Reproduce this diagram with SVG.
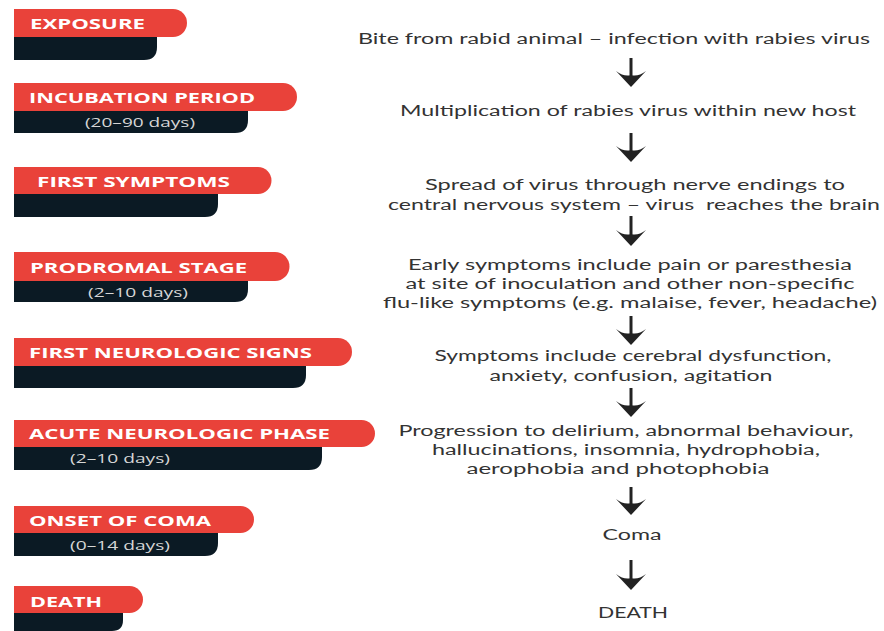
<svg xmlns="http://www.w3.org/2000/svg" xmlns:xlink="http://www.w3.org/1999/xlink" width="884" height="631" viewBox="0 0 884 631">
<style>
.red{fill:#e9423a}
.dark{fill:#0b1a24}
.lbl{font-family:"Open Sans","Liberation Sans",sans-serif;font-weight:bold;font-size:15px;fill:#ffffff}
.sub{font-family:"Open Sans","Liberation Sans",sans-serif;font-size:12.5px;fill:#d6d6d6}
.desc{font-family:Lato,"Liberation Sans",sans-serif;font-size:15.5px;fill:#333333;text-anchor:middle;white-space:pre}
.shaft{stroke:#222;stroke-width:3;fill:none}
.head{fill:#222}
</style>
<defs>
<path id="ah" class="head" d="M0,0 L-15,-16 Q-7,-10 0,-12 Q7,-10 15,-16 Z"/>
</defs>
<rect width="884" height="631" fill="#ffffff"/>

<g id="stage-exposure">
<path class="dark" d="M14,36 H157 V47 Q157,60 144,60 H14 Z"/>
<path class="red" d="M14,9 H173 A14,14 0 0 1 173,37 H14 Z"/>
<text class="lbl" x="30" y="29" textLength="115" lengthAdjust="spacingAndGlyphs">EXPOSURE</text>
</g>

<g id="stage-incubation">
<path class="dark" d="M14,110 H248 V120 Q248,133 235,133 H14 Z"/>
<path class="red" d="M14,83 H283 A14,14 0 0 1 283,111 H14 Z"/>
<text class="lbl" x="29" y="103" textLength="226" lengthAdjust="spacingAndGlyphs">INCUBATION PERIOD</text>
<text class="sub" x="85" y="127" textLength="110" lengthAdjust="spacingAndGlyphs">(20–90 days)</text>
</g>

<g id="stage-first-symptoms">
<path class="dark" d="M14,194 H218 V204 Q218,217 205,217 H14 Z"/>
<path class="red" d="M14,167 H258 A13.5,13.5 0 0 1 258,194 H14 Z"/>
<text class="lbl" x="37" y="187" textLength="193" lengthAdjust="spacingAndGlyphs">FIRST SYMPTOMS</text>
</g>

<g id="stage-prodromal">
<path class="dark" d="M14,280 H248 V289 Q248,302 235,302 H14 Z"/>
<path class="red" d="M14,252 H275 A14.5,14.5 0 0 1 275,281 H14 Z"/>
<text class="lbl" x="30" y="273" textLength="217" lengthAdjust="spacingAndGlyphs">PRODROMAL STAGE</text>
<text class="sub" x="88" y="297" textLength="100" lengthAdjust="spacingAndGlyphs">(2–10 days)</text>
</g>

<g id="stage-first-neurologic">
<path class="dark" d="M14,365 H306 V375 Q306,388 293,388 H14 Z"/>
<path class="red" d="M14,338 H338 A14,14 0 0 1 338,366 H14 Z"/>
<text class="lbl" x="29" y="358" textLength="283" lengthAdjust="spacingAndGlyphs">FIRST NEUROLOGIC SIGNS</text>
</g>

<g id="stage-acute-neurologic">
<path class="dark" d="M14,446 H322 V457 Q322,470 309,470 H14 Z"/>
<path class="red" d="M14,420 H361.5 A13.5,13.5 0 0 1 361.5,447 H14 Z"/>
<text class="lbl" x="29" y="439" textLength="301" lengthAdjust="spacingAndGlyphs">ACUTE NEUROLOGIC PHASE</text>
<text class="sub" x="70" y="463" textLength="100" lengthAdjust="spacingAndGlyphs">(2–10 days)</text>
</g>

<g id="stage-onset-coma">
<path class="dark" d="M14,532 H218 V543 Q218,556 205,556 H14 Z"/>
<path class="red" d="M14,506 H240.5 A13.5,13.5 0 0 1 240.5,533 H14 Z"/>
<text class="lbl" x="29" y="526" textLength="182" lengthAdjust="spacingAndGlyphs">ONSET OF COMA</text>
<text class="sub" x="70" y="550" textLength="100" lengthAdjust="spacingAndGlyphs">(0–14 days)</text>
</g>

<g id="stage-death">
<path class="dark" d="M14,612 H123 V620 Q123,631 112,631 H14 Z"/>
<path class="red" d="M14,586 H129.5 A13.5,13.5 0 0 1 129.5,613 H14 Z"/>
<text class="lbl" x="30" y="607" textLength="72" lengthAdjust="spacingAndGlyphs">DEATH</text>
</g>

<g id="desc-exposure">
<text class="desc" x="614" y="44" textLength="512" lengthAdjust="spacingAndGlyphs">Bite from rabid animal – infection with rabies virus</text>
</g>
<g id="desc-incubation">
<text class="desc" x="628" y="116" textLength="456" lengthAdjust="spacingAndGlyphs">Multiplication of rabies virus within new host</text>
</g>
<g id="desc-first-symptoms">
<text class="desc" x="635" y="190" textLength="420" lengthAdjust="spacingAndGlyphs">Spread of virus through nerve endings to</text>
<text class="desc" x="634" y="210" textLength="492" lengthAdjust="spacingAndGlyphs">central nervous system – virus  reaches the brain</text>
</g>
<g id="desc-prodromal">
<text class="desc" x="630" y="270" textLength="444" lengthAdjust="spacingAndGlyphs">Early symptoms include pain or paresthesia</text>
<text class="desc" x="630" y="289" textLength="449" lengthAdjust="spacingAndGlyphs">at site of inoculation and other non-specific</text>
<text class="desc" x="630" y="308" textLength="494" lengthAdjust="spacingAndGlyphs">flu-like symptoms (e.g. malaise, fever, headache)</text>
</g>
<g id="desc-first-neurologic">
<text class="desc" x="633" y="361" textLength="397" lengthAdjust="spacingAndGlyphs">Symptoms include cerebral dysfunction,</text>
<text class="desc" x="631" y="381" textLength="283" lengthAdjust="spacingAndGlyphs">anxiety, confusion, agitation</text>
</g>
<g id="desc-acute-neurologic">
<text class="desc" x="626" y="436" textLength="455" lengthAdjust="spacingAndGlyphs">Progression to delirium, abnormal behaviour,</text>
<text class="desc" x="626" y="455" textLength="388" lengthAdjust="spacingAndGlyphs">hallucinations, insomnia, hydrophobia,</text>
<text class="desc" x="618" y="474" textLength="303" lengthAdjust="spacingAndGlyphs">aerophobia and photophobia</text>
</g>
<g id="desc-coma">
<text class="desc" x="632" y="540" textLength="59" lengthAdjust="spacingAndGlyphs">Coma</text>
</g>
<g id="desc-death">
<text class="desc" x="633" y="618" textLength="70" lengthAdjust="spacingAndGlyphs">DEATH</text>
</g>

<g id="connectors">
<line class="shaft" x1="631" y1="58" x2="631" y2="80"/><use xlink:href="#ah" x="631" y="87"/>
<line class="shaft" x1="631" y1="133" x2="631" y2="155"/><use xlink:href="#ah" x="631" y="162"/>
<line class="shaft" x1="631" y1="216" x2="631" y2="239"/><use xlink:href="#ah" x="631" y="246"/>
<line class="shaft" x1="631" y1="316" x2="631" y2="338"/><use xlink:href="#ah" x="631" y="345"/>
<line class="shaft" x1="631" y1="388" x2="631" y2="410"/><use xlink:href="#ah" x="631" y="417"/>
<line class="shaft" x1="631" y1="487" x2="631" y2="508"/><use xlink:href="#ah" x="631" y="515"/>
<line class="shaft" x1="631" y1="560" x2="631" y2="583"/><use xlink:href="#ah" x="631" y="590"/>
</g>
</svg>
